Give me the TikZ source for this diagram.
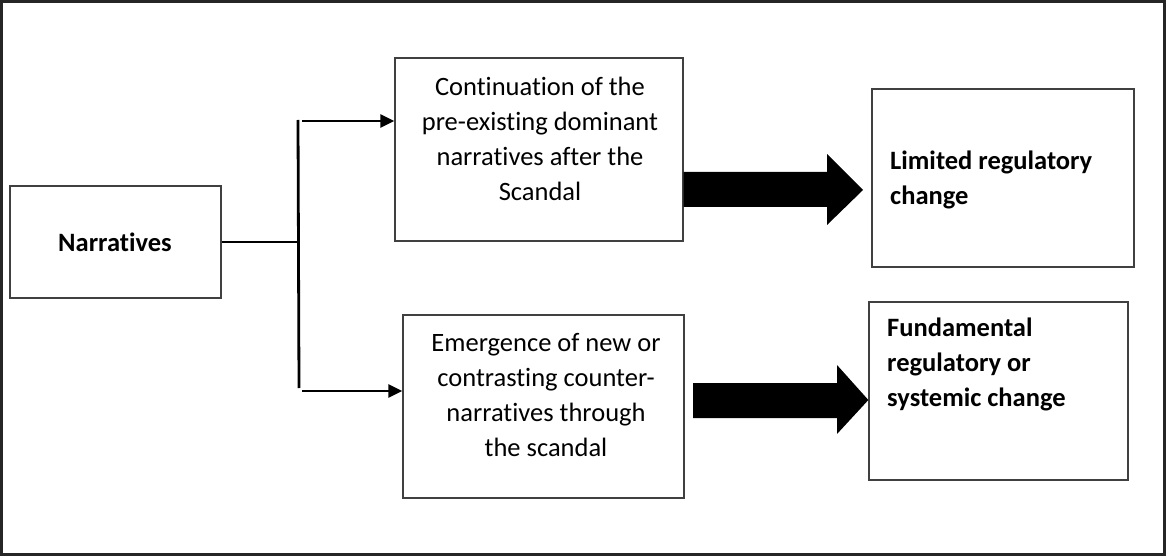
\documentclass[tikz,border=0pt]{standalone}
\usepackage{fontspec}
\setmainfont[Ligatures=NoCommon,RawFeature={-liga;-clig}]{Carlito}
\usetikzlibrary{arrows.meta,calc}
\begin{document}
\begin{tikzpicture}[x=1pt,y=-1pt,
  box/.style={draw=black!75,line width=1.3pt,inner sep=0pt},
  txt/.style={inner sep=0pt,font=\fontsize{26.5}{35}\selectfont,align=center},
  btxt/.style={inner sep=0pt,font=\fontsize{26.5}{35}\selectfont\bfseries,align=left,anchor=west},
  conn/.style={line width=2.8pt},
  connarrow/.style={line width=2.8pt,-{Triangle[length=14pt,width=13pt]}},
  blockarrow/.style={fill=black}]
\useasboundingbox (0,0) rectangle (1167,556);
\draw[black!85,line width=3pt] (1.5,1.5) rectangle (1164,554);

% boxes
\node[box,minimum width=211pt,minimum height=112pt] (nar) at (115.5,242) {};
\node[txt,font=\fontsize{26.5}{35}\selectfont\bfseries] (nart) at (115,242) {Narratives};

\node[box,minimum width=288pt,minimum height=183pt] (m1) at (539,149.5) {};
\node[txt] (m1t) at (540,139) {Continuation of the\\pre-existing dominant\\narratives after the\\Scandal};

\node[box,minimum width=281pt,minimum height=183pt] (m2) at (543.5,406.5) {};
\node[txt] (m2t) at (546,395) {Emergence of new or\\contrasting counter-\\narratives through\\the scandal};

\node[box,minimum width=262pt,minimum height=178pt] (r1) at (1003,178) {};
\node[btxt] (r1t) at (890,179.5) {Limited regulatory\\change};

\node[box,minimum width=259pt,minimum height=178pt] (r2) at (998.5,391) {};
\node[btxt] (r2t) at (887,364) {Fundamental\\regulatory or\\systemic change};

% connectors
\coordinate (j) at (298,242);
\coordinate (jt) at (298,120);
\coordinate (jb) at (299,388);
\coordinate (at) at (302,121);
\coordinate (ab) at (302,391);
\draw[conn] (nar.east |- j) -- (j);
\draw[conn] (jt) -- (jb);
\draw[connarrow] (at) -- (at -| m1.west);
\draw[connarrow] (ab) -- (ab -| m2.west);

% block arrows
\fill[blockarrow] (m1.east |- 0,172) -- (827,172) -- (827,154) -- (863,190) -- (827,225) -- (827,207) -- (m1.east |- 0,207) -- cycle;
\fill[blockarrow] (693,383) -- (837,383) -- (837,365) -- (r2.west |- 0,400) -- (837,434) -- (837,418) -- (693,418) -- cycle;
\end{tikzpicture}
\end{document}
